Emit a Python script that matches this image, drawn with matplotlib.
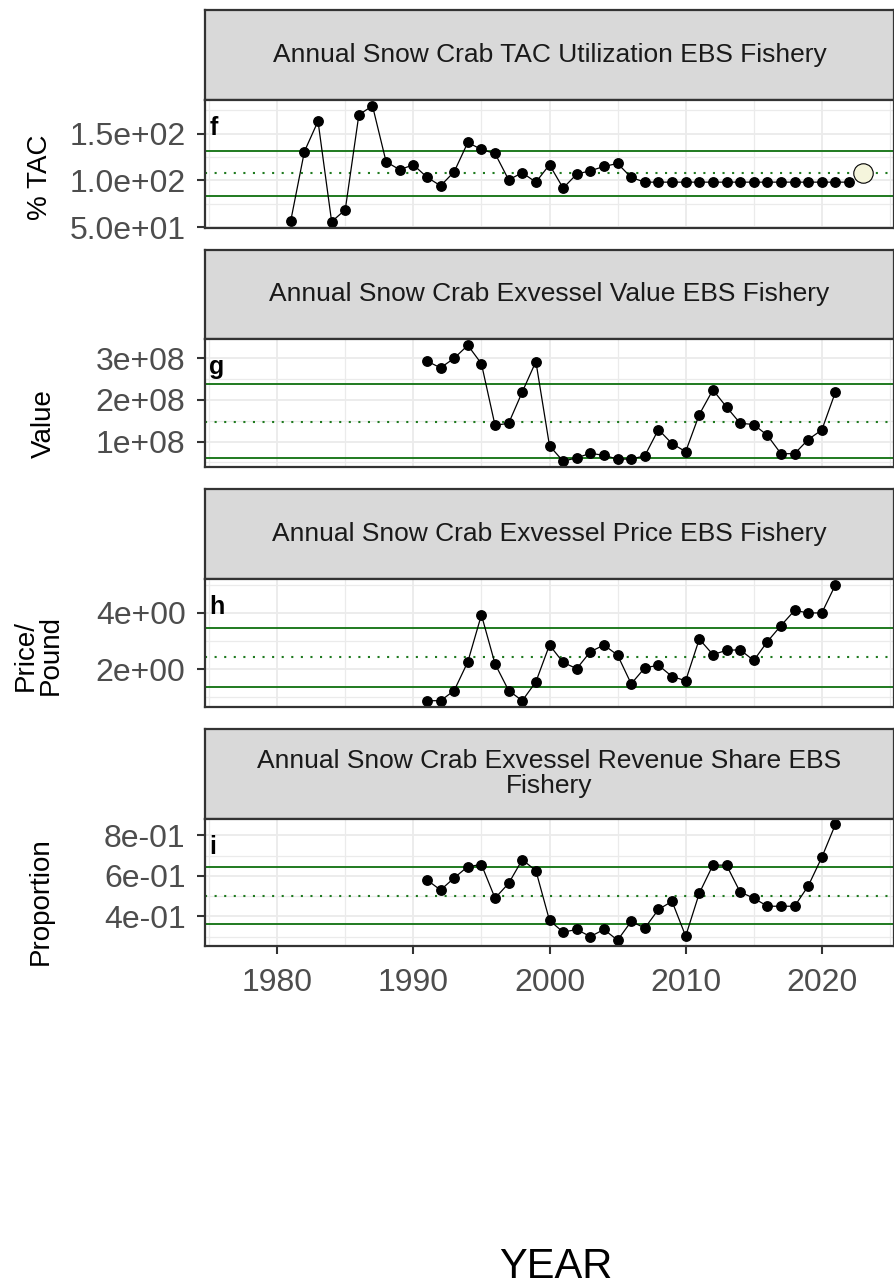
import matplotlib
matplotlib.use("Agg")
import matplotlib.pyplot as plt
from matplotlib.ticker import FixedLocator, FixedFormatter

plt.rcParams['font.family'] = ['Liberation Sans', 'DejaVu Sans']

W, H, DPI = 895, 1287, 100

# ---- data -------------------------------------------------------------
tac_years = list(range(1981, 2023))
tac_pct = [57.0, 131.0, 163.5, 55.8, 68.6, 170.3, 180.0, 120.0, 111.5, 116.8,
           103.5, 94.3, 109.3, 140.7, 133.2, 128.9, 100.7, 108.2, 98.2, 116.8,
           91.8, 106.8, 110.4, 115.0, 118.2, 103.2, 98.2, 98.2, 98.2, 98.2,
           98.2, 98.2, 98.2, 98.2, 98.2, 98.2, 98.2, 98.2, 98.2, 98.2,
           98.2, 98.2]
tac_mean_year = [2023]
tac_mean_value = [107.5]

econ_years = list(range(1991, 2022))
exvessel_value = [2.93e8, 2.77e8, 3.00e8, 3.31e8, 2.87e8, 1.39e8, 1.44e8, 2.19e8, 2.92e8, 0.90e8,
                  0.53e8, 0.61e8, 0.72e8, 0.67e8, 0.58e8, 0.58e8, 0.66e8, 1.29e8, 0.95e8, 0.76e8,
                  1.65e8, 2.24e8, 1.83e8, 1.44e8, 1.41e8, 1.15e8, 0.71e8, 0.71e8, 1.05e8, 1.28e8,
                  2.19e8]
exvessel_price = [0.88, 0.88, 1.24, 2.26, 3.93, 2.19, 1.24, 0.88, 1.55, 2.86,
                  2.24, 2.02, 2.62, 2.86, 2.50, 1.48, 2.05, 2.14, 1.74, 1.59,
                  3.07, 2.52, 2.67, 2.69, 2.31, 2.98, 3.55, 4.09, 4.00, 4.00,
                  5.00]
revenue_share = [0.580, 0.530, 0.590, 0.646, 0.656, 0.490, 0.563, 0.680, 0.626, 0.380,
                 0.322, 0.335, 0.300, 0.335, 0.282, 0.375, 0.342, 0.434, 0.474, 0.302,
                 0.514, 0.653, 0.653, 0.520, 0.490, 0.450, 0.450, 0.450, 0.550, 0.692,
                 0.855]

# reference lines: long-term mean and mean +/- 1 SD
ref_lines = {
    'f': (107.5, 83.6, 131.4),
    'g': (1.48e8, 0.61e8, 2.37e8),
    'h': (2.45, 1.38, 3.47),
    'i': (0.50, 0.362, 0.643),
}

strip_titles = ['Annual Snow Crab TAC Utilization EBS Fishery',
                'Annual Snow Crab Exvessel Value EBS Fishery',
                'Annual Snow Crab Exvessel Price EBS Fishery',
                'Annual Snow Crab Exvessel Revenue Share EBS\nFishery']
y_titles = ['% TAC', 'Value', 'Price/\nPound', 'Proportion']
panel_tags = ['f', 'g', 'h', 'i']

y_major = [[50, 100, 150], [1e8, 2e8, 3e8], [2, 4], [0.4, 0.6, 0.8]]
y_major_labels = [['5.0e+01', '1.0e+02', '1.5e+02'],
                  ['1e+08', '2e+08', '3e+08'],
                  ['2e+00', '4e+00'],
                  ['4e-01', '6e-01', '8e-01']]
y_minor = [[75, 125, 175], [0.5e8, 1.5e8, 2.5e8], [1, 3, 5], [0.3, 0.5, 0.7]]

x_major = [1980, 1990, 2000, 2010, 2020]
x_major_labels = ['1980', '1990', '2000', '2010', '2020']
x_minor = [1975, 1985, 1995, 2005, 2015, 2025]
x_limits = (1974.7, 2025.3)

# ---- layout (pixels from top-left) -----------------------------------
LEFT, RIGHT = 205, 894
strip_tops = [10, 249.5, 489, 728.5]
STRIP_H, PANEL_H = 90, 127.5
ytitle_pos = [(40, 177), (44, 424), (38, 655), (41, 901)]

GREEN = '#1f7a1f'
FRAME = '#333333'


def box(top, height):
    return [LEFT / W, 1 - (top + height) / H, (RIGHT - LEFT) / W, height / H]


fig = plt.figure(figsize=(W / DPI, H / DPI), dpi=DPI)
fig.patch.set_facecolor('white')

series = [(tac_years, tac_pct), (econ_years, exvessel_value),
          (econ_years, exvessel_price), (econ_years, revenue_share)]

for k in range(4):
    st = strip_tops[k]
    # facet strip
    sax = fig.add_axes(box(st, STRIP_H))
    sax.set_facecolor('#D9D9D9')
    sax.set_xticks([])
    sax.set_yticks([])
    for sp in sax.spines.values():
        sp.set_color(FRAME)
        sp.set_linewidth(1.6)
    sax.text(0.5, 0.5, strip_titles[k], ha='center', va='center',
             fontsize=19, color='#1A1A1A', linespacing=1.05,
             transform=sax.transAxes)

    # data panel
    ax = fig.add_axes(box(st + STRIP_H, PANEL_H))
    ax.set_facecolor('white')
    xs, ys = series[k]
    mean, lo, hi = ref_lines[panel_tags[k]]
    ax.axhline(hi, color=GREEN, lw=1.4, zorder=2)
    ax.axhline(lo, color=GREEN, lw=1.4, zorder=2)
    ax.axhline(mean, color=GREEN, lw=1.5, ls=(0, (1, 3.6)), zorder=2)
    ax.plot(xs, ys, color='black', lw=0.9, marker='o', ms=6.8,
            mfc='black', mec='black', zorder=3)
    if k == 0:
        ax.plot(tac_mean_year, tac_mean_value, ls='none', marker='o', ms=14,
                mfc='#F5F5DC', mec='black', mew=0.8, zorder=4)

    ax.set_xlim(*x_limits)
    ax.margins(y=0.05)
    ax.xaxis.set_major_locator(FixedLocator(x_major))
    ax.xaxis.set_minor_locator(FixedLocator(x_minor))
    ax.yaxis.set_major_locator(FixedLocator(y_major[k]))
    ax.yaxis.set_major_formatter(FixedFormatter(y_major_labels[k]))
    ax.yaxis.set_minor_locator(FixedLocator(y_minor[k]))
    ax.grid(which='major', color='#EBEBEB', lw=1.3, zorder=0)
    ax.grid(which='minor', color='#EBEBEB', lw=0.9, zorder=0)
    ax.set_axisbelow(True)
    for sp in ax.spines.values():
        sp.set_color(FRAME)
        sp.set_linewidth(1.6)
        sp.set_zorder(5)

    ax.tick_params(axis='y', which='major', length=6, width=1.5, color=FRAME,
                   labelsize=23, labelcolor='#4D4D4D', pad=8)
    ax.tick_params(axis='y', which='minor', length=0)
    if k == 3:
        ax.xaxis.set_major_formatter(FixedFormatter(x_major_labels))
        ax.tick_params(axis='x', which='major', length=6, width=1.5, color=FRAME,
                       labelsize=23, labelcolor='#4D4D4D', pad=10)
    else:
        ax.tick_params(axis='x', which='major', length=0, labelbottom=False)
    ax.tick_params(axis='x', which='minor', length=0)

    ax.text(0.006, 1 - 28 / PANEL_H, panel_tags[k], transform=ax.transAxes,
            fontsize=18, fontweight='bold', ha='left', va='center', zorder=6)

    tx, ty = ytitle_pos[k]
    fig.text(tx / W, 1 - ty / H, y_titles[k], rotation=90, ha='center',
             va='center', fontsize=20, color='black', linespacing=0.95)

fig.text(556 / W, 1 - 1267 / H, 'YEAR', ha='center', va='center',
         fontsize=30, color='black')

fig.savefig('out.png', dpi=DPI)
